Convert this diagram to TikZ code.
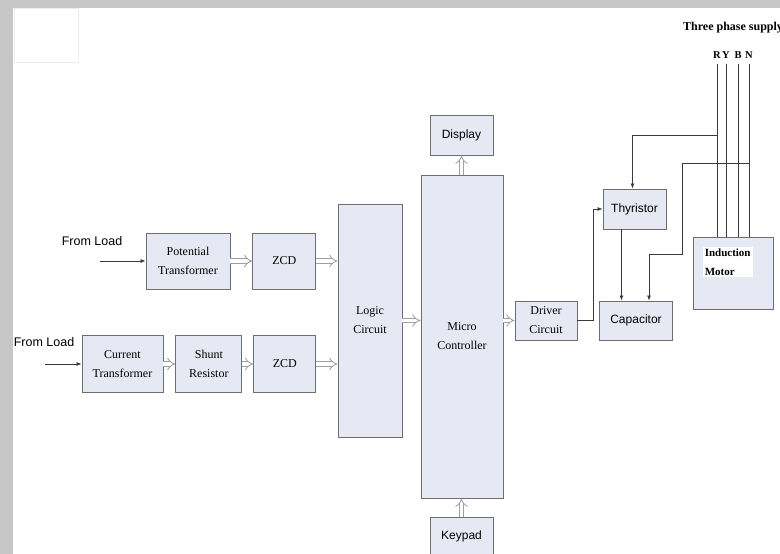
\documentclass[tikz,border=0pt]{standalone}
\usepackage{fontspec}
\setmainfont{Liberation Serif}
\setsansfont{Liberation Sans}
\usetikzlibrary{positioning, arrows.meta, calc}

\definecolor{blockfill}{HTML}{E6E9F4}
\definecolor{blockline}{HTML}{6E6E6E}
\definecolor{wirecol}{HTML}{3A3A3A}

\begin{document}
\begin{tikzpicture}[
    x=1pt, y=1pt,
    % Styles
    block/.style={
        rectangle,
        fill=blockfill,
        draw=blockline,
        line width=0.9pt,
        align=center,
        inner sep=1pt,
        font=\fontsize{12}{19}\selectfont
    },
    sblock/.style={
        block,
        font=\sffamily\fontsize{12}{19}\selectfont
    },
    hollow/.style={
        draw=gray!75,
        double=white,
        double distance=3.6pt,
        line width=0.8pt,
        -{Implies}
    },
    wire/.style={
        draw=wirecol,
        line width=0.8pt
    },
    arrow/.style={
        wire,
        -{Latex[length=5pt, width=4pt]}
    },
    lbl/.style={
        font=\sffamily\fontsize{12.5}{14}\selectfont
    },
    phase/.style={
        font=\bfseries\fontsize{10.5}{12}\selectfont,
        inner sep=0pt
    }
]
    \useasboundingbox (0,0) rectangle (780,554);

    % Frame
    \fill[white] (0,0) rectangle (780,554);
    \fill[gray!45] (0,0) rectangle (13,554);
    \fill[gray!45] (0,546) rectangle (780,554);
    \draw[gray!15] (14,492) rectangle (78,546);

    % Voltage path
    \node[block, minimum width=84pt, minimum height=56pt] (pt) at (188,293) {Potential\\Transformer};
    \node[block, minimum width=63pt, minimum height=56pt, right=22pt of pt] (zcdA) {ZCD};

    % Current path
    \node[block, minimum width=81pt, minimum height=57pt] (ct) at (122.5,190) {Current\\Transformer};
    \node[block, minimum width=66pt, minimum height=57pt, right=12pt of ct] (shunt) {Shunt\\Resistor};
    \node[block, minimum width=62pt, minimum height=57pt, right=11pt of shunt] (zcdB) {ZCD};

    % Control
    \node[block, minimum width=64pt, minimum height=233pt] (logic) at (370,233.5) {Logic\\Circuit};
    \node[block, minimum width=82pt, minimum height=323pt] (mc) at (462,217.5) {Micro\\Controller};
    \node[sblock, minimum width=63pt, minimum height=40pt] (display) at (461.5,419) {Display};
    \node[sblock, minimum width=63pt, minimum height=46pt, text depth=10pt] (keypad) at (461.5,14) {Keypad};

    % Power side
    \node[block, minimum width=62pt, minimum height=39pt] (driver) at (546,233.5) {Driver\\Circuit};
    \node[sblock, minimum width=63pt, minimum height=40pt] (thy) at (634.5,345) {Thyristor};
    \node[sblock, minimum width=73pt, minimum height=39pt] (cap) at (636,233.5) {Capacitor};
    \node[block, minimum width=80pt, minimum height=72pt] (motor) at (733,281) {};
    \node[fill=white, align=left, anchor=north west, inner sep=2pt,
          font=\bfseries\fontsize{11}{19}\selectfont] (motorlbl)
          at ([xshift=10pt, yshift=-10pt]motor.north west) {Induction\\Motor};

    % Inputs
    \node[lbl] (loadA) at (92,313) {From Load};
    \coordinate (inA) at (100,293);
    \node[lbl] (loadB) at (44,212) {From Load};
    \coordinate (inB) at (45,190);

    % Supply
    \node[phase, anchor=west, font=\bfseries\fontsize{12}{13}\selectfont] (supply) at (683,526) {Three phase supply};
    \coordinate (rtop) at (717,490);
    \coordinate (ytop) at (726,490);
    \coordinate (btop) at (738,490);
    \coordinate (ntop) at (749,490);
    \node[phase, above=5pt of rtop] {R};
    \node[phase, above=5pt of ytop] {Y};
    \node[phase, above=5pt of btop] {B};
    \node[phase, above=5pt of ntop] {N};
    \coordinate (rtap) at (717,419);
    \coordinate (ntap) at (749,391);
    \coordinate (nbend) at (682,300);

    % Paths
    \draw[arrow] (inA) -- (pt);
    \draw[arrow] (inB) -- (ct);
    \draw[hollow] (pt) -- (zcdA);
    \draw[hollow] (zcdA.east) -- (zcdA.east -| logic.west);
    \draw[hollow] (ct) -- (shunt);
    \draw[hollow] (shunt) -- (zcdB);
    \draw[hollow] (zcdB.east) -- (zcdB.east -| logic.west);
    \draw[hollow] (logic.east) -- (logic.east -| mc.west);
    \draw[hollow] (driver.west -| mc.east) -- (driver.west);
    \draw[hollow] (display.south |- mc.north) -- (display.south);
    \draw[hollow] (keypad.north) -- (keypad.north |- mc.south);

    \draw[wire] (rtop) -- (rtop |- motor.north);
    \draw[wire] (ytop) -- (ytop |- motor.north);
    \draw[wire] (btop) -- (btop |- motor.north);
    \draw[wire] (ntop) -- (ntop |- motor.north);
    \draw[arrow] (rtap) -| ([xshift=-2pt]thy.north);
    \draw[arrow] (ntap) -| (nbend) -| ([xshift=13pt]cap.north);
    \draw[arrow] ([xshift=-13pt]thy.south) -- ([xshift=-13pt]thy.south |- cap.north);
    \draw[arrow] (driver.east) -- ++(16pt,0) |- (thy.west);
\end{tikzpicture}
\end{document}
